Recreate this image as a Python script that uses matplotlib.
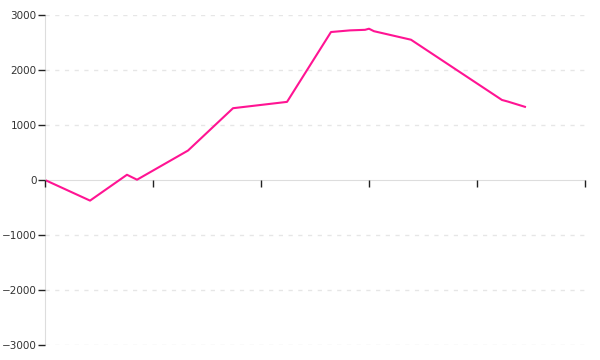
import matplotlib
matplotlib.use("Agg")
import matplotlib.pyplot as plt

# valores (x em unidades de marca, y em valor)
xs = [0, 0.417, 0.759, 0.852, 1.324, 1.741, 2.241, 2.648, 2.824, 2.963, 3.0, 3.046,
      3.389, 4.231, 4.287, 4.444]
ys = [0, -375, 95, 5, 535, 1305, 1420, 2690, 2720, 2730, 2750, 2705,
      2550, 1455, 1425, 1330]
yticks = [-3000, -2000, -1000, 0, 1000, 2000, 3000]
xticks = [0, 1, 2, 3, 4, 5]

fig = plt.figure(figsize=(6, 3.6), dpi=100)
ax = fig.add_axes([0.075, 0.0417, 0.9, 0.9167])

for v in yticks:
    if v != 0:
        ax.axhline(v, color="#e6e6e6", lw=1, ls=(0, (3, 4)), zorder=0)

ax.plot(xs, ys, color="#ff1493", lw=1.5, zorder=2)

ax.set_xlim(0, 5)
ax.set_ylim(-3000, 3000)

ax.spines["top"].set_visible(False)
ax.spines["right"].set_visible(False)
ax.spines["left"].set_color("#dddddd")
ax.spines["bottom"].set_position(("data", 0))
ax.spines["bottom"].set_color("#dddddd")
ax.spines["bottom"].set_zorder(1)

ax.set_yticks(yticks)
ax.set_yticklabels([str(v).replace("-", "\u2212") for v in yticks])
ax.set_xticks(xticks)
ax.set_xticklabels([])
ax.tick_params(axis="y", length=5, width=1, color="#222222", labelsize=7.5,
               labelcolor="#333333", pad=1)
ax.tick_params(axis="x", length=5, width=1, color="#222222", direction="out")
ax.xaxis.set_zorder(3)
ax.yaxis.set_zorder(3)

fig.savefig("out.png", dpi=100)
